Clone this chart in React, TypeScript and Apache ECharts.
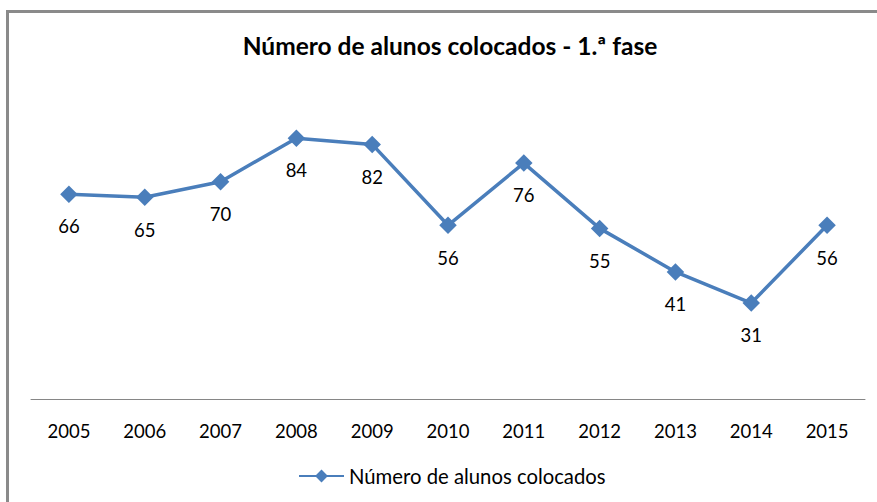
import React, { useEffect, useRef } from "react";
import * as echarts from "echarts";

const years = ["2005", "2006", "2007", "2008", "2009", "2010", "2011", "2012", "2013", "2014", "2015"];
const placed = [66, 65, 70, 84, 82, 56, 76, 55, 41, 31, 56];
const seriesName = "Número de alunos colocados";
const titleText = "Número de alunos colocados - 1.ª fase";

const FONT = "Lato, 'Open Sans', sans-serif";
const BLUE = "#4A7EBB";

export default function App() {
  const ref = useRef<HTMLDivElement>(null);
  useEffect(() => {
    document.body.style.margin = "0";
    if (!ref.current) return;
    const chart = echarts.init(ref.current, null, { renderer: "svg" });
    chart.setOption({
      animation: false,
      backgroundColor: "#ffffff",
      textStyle: { fontFamily: FONT },
      graphic: [
        {
          type: "rect",
          shape: { x: 7.5, y: 11.5, width: 900, height: 520 },
          style: { fill: "none", stroke: "#8a8a8a", lineWidth: 3 },
          silent: true,
        },
        {
          type: "text",
          x: 450,
          y: 45,
          style: {
            text: titleText,
            fontFamily: FONT,
            fontSize: 24.5,
            fontWeight: "bold",
            fill: "#000000",
            align: "center",
            verticalAlign: "middle",
          },
        },
      ],
      legend: {
        data: [seriesName],
        left: 298,
        top: 466,
        padding: 0,
        itemWidth: 45,
        itemHeight: 16,
        itemGap: 5,
        textStyle: { fontFamily: FONT, fontSize: 20.3, color: "#000000", padding: [0, 0, 0, 0] },
      },
      grid: { left: 31, right: 12, top: 119.5, bottom: 102.5, containLabel: false },
      xAxis: {
        type: "category",
        data: years,
        boundaryGap: true,
        axisLine: { show: true, lineStyle: { color: "#868686", width: 1 } },
        axisTick: { show: false },
        axisLabel: { fontFamily: FONT, fontSize: 18.5, color: "#000000", margin: 22, interval: 0 },
        splitLine: { show: false },
      },
      yAxis: {
        type: "value",
        min: 0,
        max: 90,
        show: false,
        splitLine: { show: false },
      },
      series: [
        {
          name: seriesName,
          type: "line",
          data: placed,
          symbol: "diamond",
          symbolSize: 17.5,
          itemStyle: { color: BLUE },
          lineStyle: { color: BLUE, width: 3.5 },
          label: {
            show: true,
            position: "bottom",
            distance: 14,
            fontFamily: FONT,
            fontSize: 18.5,
            color: "#000000",
          },
        },
      ],
    });
    return () => chart.dispose();
  }, []);
  return <div ref={ref} style={{ width: 877, height: 502 }} />;
}
